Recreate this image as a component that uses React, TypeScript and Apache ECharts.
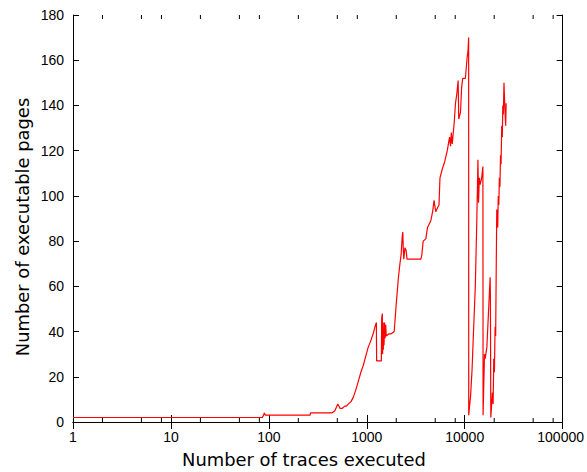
import React, { useEffect, useRef } from "react";
import * as echarts from "echarts";

// Number of traces executed (x, log scale)
const traces = [
  1, 86, 88, 90, 92, 99, 264, 266, 440, 472, 506, 520, 534, 560, 595, 620, 649, 690, 729, 770,
  819, 870, 920, 975, 1033, 1100, 1161, 1210, 1253, 1260, 1408, 1420, 1441, 1450, 1465, 1475, 1490, 1500, 1520, 1540,
  1560, 1581, 1683, 1776, 1906, 1996, 2050, 2105, 2180, 2242, 2300, 2332, 2360, 2387, 2450, 2518, 2576, 3570, 3650, 3766,
  4009, 4100, 4169, 4505, 4700, 4865, 5059, 5300, 5462, 5590, 5911, 6236, 6637, 7000, 7170, 7300, 7458, 7800, 8052, 8300,
  8570, 8690, 9056, 9300, 9550, 10160, 10570, 10800, 10970, 10990, 11150, 11500, 11880, 12300, 12830, 13300, 13650, 13840, 14100, 14390,
  14900, 15340, 15400, 15560, 15920, 16180, 16830, 17470, 18180, 18300, 18470, 19180, 19500, 19800, 20100, 20420, 20700, 21000, 21250, 21740,
  22000, 22300, 22590, 22900, 23200, 23500, 23880, 24200, 24500, 24800, 25180, 25500, 25770, 26190, 26500,
];
// Number of executable pages (y)
const pages = [
  2, 2, 3, 4, 3, 3, 3, 4, 4, 5, 8, 7, 6, 6, 7, 7, 8, 9, 11, 14,
  18, 22, 25, 29, 33, 36, 39, 42, 44, 27, 27, 46, 48, 30, 40, 32, 44, 34, 44, 37,
  43, 38, 39, 39, 40, 52, 58, 64, 70, 74, 82, 84, 76, 72, 77, 76, 72, 72, 74, 80,
  81, 84, 86, 89, 93, 98, 93, 95, 96, 108, 112, 115, 120, 126, 122, 128, 123, 132, 141, 145,
  151, 134, 137, 148, 152, 152, 161, 164, 170, 3, 3, 12, 23, 40, 60, 90, 116, 97, 108, 105,
  108, 113, 3, 3, 30, 28, 33, 48, 64, 55, 2, 13, 8, 28, 22, 42, 38, 70, 94, 86,
  100, 96, 108, 104, 118, 114, 131, 126, 140, 136, 150, 143, 138, 131, 141,
];
// Tick values
const xMinorTicks = [2, 5, 8, 20, 50, 80, 200, 500, 800, 2000, 5000, 8000, 20000, 50000, 80000];
const yMin = 0;
const yMax = 180;
const yStep = 20;
const xMin = 1;
const xMax = 100000;

export default function App() {
  const ref = useRef<HTMLDivElement>(null);
  useEffect(() => {
    document.body.style.margin = "0";
    if (!ref.current) return;
    const chart = echarts.init(ref.current, undefined, { renderer: "svg" });
    const lineData = traces.map((t, i) => [t, pages[i]]);
    const tickFont = { fontFamily: "Liberation Sans", fontSize: 14, color: "#000" };
    const baseX = {
      type: "log" as const,
      logBase: 10,
      min: xMin,
      max: xMax,
      splitLine: { show: false },
      axisLine: { show: true, lineStyle: { color: "#000", width: 1 } },
      axisTick: { show: true, inside: true, length: 7, lineStyle: { color: "#000", width: 1 } },
    };
    const baseY = {
      type: "value" as const,
      min: yMin,
      max: yMax,
      interval: yStep,
      splitLine: { show: false },
      axisLine: { show: true, lineStyle: { color: "#000", width: 1 } },
      axisTick: { show: true, inside: true, length: 6, lineStyle: { color: "#000", width: 1 } },
    };
    chart.setOption({
      animation: false,
      backgroundColor: "#fff",
      grid: { left: 73, right: 18, top: 15, bottom: 50, containLabel: false },
      xAxis: [
        {
          ...baseX,
          position: "bottom",
          axisLabel: {
            ...tickFont,
            margin: 8,
            formatter: (v: number) => {
              const r = Math.round(v);
              return r === xMax ? "{last|" + r + "}" : String(r);
            },
            rich: { last: { ...tickFont, padding: [0, 4, 0, 0] } },
          },
        },
        { ...baseX, position: "top", axisLabel: { show: false } },
      ],
      yAxis: [
        { ...baseY, position: "left", axisLabel: { ...tickFont, margin: 9 } },
        { ...baseY, position: "right", axisLabel: { show: false } },
      ],
      graphic: [
        {
          type: "text",
          x: 304,
          y: 459,
          style: {
            text: "Number of traces executed",
            font: "17.9px 'DejaVu Sans'",
            fill: "#000",
            textAlign: "center",
            textVerticalAlign: "middle",
          },
        },
        {
          type: "text",
          x: 22,
          y: 227,
          rotation: Math.PI / 2,
          style: {
            text: "Number of executable pages",
            font: "17.9px 'DejaVu Sans'",
            fill: "#000",
            textAlign: "center",
            textVerticalAlign: "middle",
          },
        },
      ],
      series: [
        {
          type: "custom",
          silent: true,
          clip: false,
          data: xMinorTicks.map((v) => [v, yMin]),
          renderItem: (_params: any, api: any) => {
            const b = api.coord([api.value(0), yMin]);
            const t = api.coord([api.value(0), yMax]);
            const style = { stroke: "#000", lineWidth: 1 };
            return {
              type: "group",
              children: [
                { type: "line", shape: { x1: b[0], y1: b[1], x2: b[0], y2: b[1] - 4 }, style },
                { type: "line", shape: { x1: t[0], y1: t[1], x2: t[0], y2: t[1] + 4 }, style },
              ],
            };
          },
        },
        {
          type: "line",
          data: lineData,
          showSymbol: false,
          symbol: "none",
          lineStyle: { color: "#ff0000", width: 1.2 },
          itemStyle: { color: "#ff0000" },
        },
      ],
    });
    return () => chart.dispose();
  }, []);
  return <div ref={ref} style={{ width: 587, height: 472 }} />;
}
